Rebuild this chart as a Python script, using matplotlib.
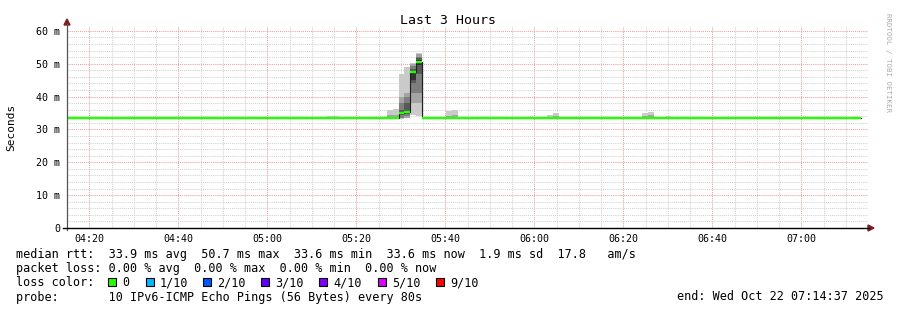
import datetime as dt
import matplotlib
matplotlib.use('Agg')
import matplotlib.pyplot as plt
import matplotlib.dates as mdates
from matplotlib.ticker import MultipleLocator, FuncFormatter
from matplotlib.patches import Polygon, Rectangle

# --- data ------------------------------------------------------------------
start_time = dt.datetime(2025, 10, 22, 4, 14, 50)
step_seconds = 80
span_hours = 3

# median rtt per 80 s step (ms), 134 steps with data
median_ms = [
    33.6, 33.6, 33.6, 33.6, 33.6, 33.6, 33.6, 33.6, 33.6, 33.6,
    33.6, 33.6, 33.6, 33.6, 33.6, 33.6, 33.6, 33.6, 33.6, 33.6,
    33.6, 33.6, 33.6, 33.6, 33.6, 33.6, 33.6, 33.6, 33.6, 33.6,
    33.6, 33.6, 33.6, 33.6, 33.6, 33.6, 33.6, 33.6, 33.6, 33.6,
    33.6, 33.6, 33.6, 33.6, 33.6, 33.6, 33.6, 33.6, 33.6, 33.6,
    33.6, 33.6, 33.6, 33.6, 33.6, 33.6, 35.0, 35.3, 47.6, 50.5,
    33.6, 33.6, 33.6, 33.6, 33.6, 33.6, 33.6, 33.6, 33.6, 33.6,
    33.6, 33.6, 33.6, 33.6, 33.6, 33.6, 33.6, 33.6, 33.6, 33.6,
    33.6, 33.6, 33.6, 33.6, 33.6, 33.6, 33.6, 33.6, 33.6, 33.6,
    33.6, 33.6, 33.6, 33.6, 33.6, 33.6, 33.6, 33.6, 33.6, 33.6,
    33.6, 33.6, 33.6, 33.6, 33.6, 33.6, 33.6, 33.6, 33.6, 33.6,
    33.6, 33.6, 33.6, 33.6, 33.6, 33.6, 33.6, 33.6, 33.6, 33.6,
    33.6, 33.6, 33.6, 33.6, 33.6, 33.6, 33.6, 33.6, 33.6, 33.6,
    33.6, 33.6, 33.6, 33.6,
]

# steps where the smoke shows above the median line, 10 sorted pings each
smoke_steps = [44, 45, 54, 55, 56, 57, 58, 59, 64, 65, 81, 82, 97, 98, 101]
smoke_pings = [
    [33.4, 33.5, 33.5, 33.6, 33.6, 33.6, 33.6, 33.7, 33.8, 34.2],
    [33.4, 33.5, 33.5, 33.6, 33.6, 33.6, 33.6, 33.7, 33.8, 34.2],
    [33.4, 33.5, 33.5, 33.6, 33.6, 33.6, 33.7, 33.8, 34.3, 36.0],
    [33.4, 33.5, 33.5, 33.6, 33.6, 33.6, 33.7, 33.8, 34.4, 36.1],
    [33.3, 33.4, 33.6, 34.5, 34.9, 35.1, 36.0, 38.0, 40.0, 47.0],
    [33.4, 33.5, 34.0, 34.8, 35.1, 35.5, 38.0, 40.0, 41.0, 49.0],
    [34.5, 38.0, 41.0, 44.0, 45.2, 47.8, 48.5, 49.2, 49.8, 50.2],
    [34.0, 38.0, 41.0, 47.0, 49.5, 51.2, 51.8, 52.2, 53.0, 53.4],
    [33.4, 33.5, 33.5, 33.6, 33.6, 33.6, 33.7, 33.8, 34.2, 35.6],
    [33.4, 33.5, 33.5, 33.6, 33.6, 33.6, 33.7, 33.8, 34.3, 35.9],
    [33.4, 33.5, 33.5, 33.6, 33.6, 33.6, 33.6, 33.7, 33.9, 34.4],
    [33.4, 33.5, 33.5, 33.6, 33.6, 33.6, 33.7, 33.8, 34.1, 34.9],
    [33.4, 33.5, 33.5, 33.6, 33.6, 33.6, 33.7, 33.8, 34.1, 34.9],
    [33.4, 33.5, 33.5, 33.6, 33.6, 33.6, 33.7, 33.8, 34.3, 35.4],
    [33.4, 33.5, 33.5, 33.6, 33.6, 33.6, 33.6, 33.7, 33.8, 34.1],
]
smoke_colors = ['#cacaca', '#a4a4a4', '#7e7e7e', '#585858', '#323232']

loss_labels = ['0', '1/10', '2/10', '3/10', '4/10', '5/10', '9/10']
loss_colors = ['#26ff00', '#00b8ff', '#0059ff', '#5e00ff', '#7e00ff', '#dd00ff', '#ff0000']

title = 'Last 3 Hours'
rtt_line = 'median rtt:  33.9 ms avg  50.7 ms max  33.6 ms min  33.6 ms now  1.9 ms sd  17.8   am/s'
loss_line = 'packet loss: 0.00 % avg  0.00 % max  0.00 % min  0.00 % now'
probe_line = 'probe:       10 IPv6-ICMP Echo Pings (56 Bytes) every 80s'
end_line = 'end: Wed Oct 22 07:14:37 2025'

# --- figure ----------------------------------------------------------------
W, H = 897, 310
mono = 'DejaVu Sans Mono'
fs = 8.5
fig = plt.figure(figsize=(W / 100, H / 100), dpi=100)
fig.patch.set_facecolor('white')


def fx(x):
    return x / W


def fy(y):
    return 1 - y / H


ax = fig.add_axes([fx(67), fy(228), 801 / W, 202 / H])

step = step_seconds / 86400.0
t0 = mdates.date2num(start_time)
ax_start = mdates.date2num(dt.datetime(2025, 10, 22, 4, 15, 0))
ax_end = mdates.date2num(dt.datetime(2025, 10, 22, 4, 15, 0) + dt.timedelta(hours=span_hours))
lefts = [t0 + k * step for k in range(len(median_ms))]
lefts[0] = ax_start

# smoke
for k, pings in zip(smoke_steps, smoke_pings):
    for i, col in enumerate(smoke_colors):
        lo, hi = pings[i], pings[len(pings) - 1 - i]
        ax.bar(t0 + k * step, hi - lo, bottom=lo, width=step, align='edge',
               color=col, linewidth=0, zorder=2)

# median: thin dark step line, then loss-coloured horizontal pieces
rights = [t0 + (k + 1) * step for k in range(len(median_ms))]
ax.step(lefts + [rights[-1]], median_ms + [median_ms[-1]], where='post',
        color='#202020', lw=0.8, zorder=3)
ax.hlines(median_ms, lefts, rights, color=loss_colors[0], lw=1.7, zorder=4)

ax.set_xlim(ax_start, ax_end)
ax.set_ylim(0, 61.5)
ax.xaxis.set_major_locator(mdates.MinuteLocator(byminute=[0, 20, 40]))
ax.xaxis.set_minor_locator(mdates.MinuteLocator(byminute=range(0, 60, 5)))
ax.xaxis.set_major_formatter(mdates.DateFormatter('%H:%M'))
ax.yaxis.set_major_locator(MultipleLocator(10))
ax.yaxis.set_minor_locator(MultipleLocator(2))
ax.yaxis.set_major_formatter(FuncFormatter(lambda v, p: '0' if v == 0 else '%d m' % v))

ax.set_axisbelow(True)
ax.grid(which='minor', color='#d2d2d2', linestyle=(0, (1, 1)), lw=0.75)
ax.grid(which='major', color='#eba0a0', linestyle=(0, (1, 1)), lw=0.75)
for s in ax.spines.values():
    s.set_visible(False)
ax.tick_params(which='both', length=0)
ax.tick_params(axis='y', pad=5, labelsize=7.2)
ax.tick_params(axis='x', pad=4, labelsize=7.2)
for lab in ax.get_xticklabels() + ax.get_yticklabels():
    lab.set_family(mono)

# axes lines with arrows
fig.add_artist(plt.Line2D([fx(67), fx(67)], [fy(230), fy(24)], color='#555555', lw=0.9))
fig.add_artist(plt.Line2D([fx(63), fx(869)], [fy(228), fy(228)], color='black', lw=1.0))
fig.add_artist(Polygon([(fx(64), fy(25)), (fx(70), fy(25)), (fx(67), fy(19))],
                       closed=True, color='#7f1f1f', transform=fig.transFigure))
fig.add_artist(Polygon([(fx(868), fy(225)), (fx(868), fy(231)), (fx(874), fy(228))],
                       closed=True, color='#7f1f1f', transform=fig.transFigure))

# texts
fig.text(fx(447.5), fy(24), title, family=mono, fontsize=9.5, ha='center', va='baseline')
fig.text(fx(11), fy(127), 'Seconds', family=mono, fontsize=8, rotation=90,
         ha='center', va='center')
fig.text(fx(888), fy(13), 'RRDTOOL / TOBI OETIKER', family=mono, fontsize=5.3,
         rotation=270, ha='center', va='top', color='#aaaaaa')

fig.text(fx(16), fy(258), rtt_line, family=mono, fontsize=fs, va='baseline')
fig.text(fx(16), fy(272), loss_line, family=mono, fontsize=fs, va='baseline')
fig.text(fx(16), fy(286.5), 'loss color:', family=mono, fontsize=fs, va='baseline')
box_x = [108, 146, 203, 261, 319, 378, 436]
for bx, lab, col in zip(box_x, loss_labels, loss_colors):
    fig.add_artist(Rectangle((fx(bx), fy(285.5)), 7.5 / W, 7.5 / H, facecolor=col,
                             edgecolor='black', lw=0.8, transform=fig.transFigure))
    fig.text(fx(bx + 14), fy(286.5), lab, family=mono, fontsize=fs, va='baseline')
fig.text(fx(16), fy(301), probe_line, family=mono, fontsize=fs, va='baseline')
fig.text(fx(677), fy(300), end_line, family=mono, fontsize=fs, ha='left', va='baseline')

fig.savefig('out.png', dpi=100, facecolor='white')
